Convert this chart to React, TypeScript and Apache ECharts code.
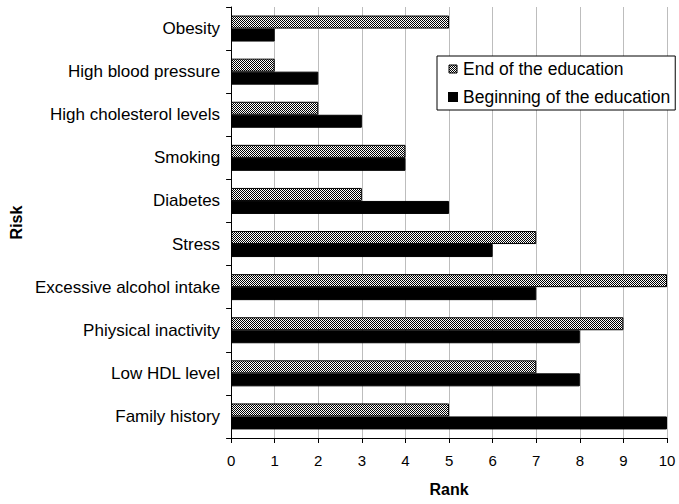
import React, { useEffect, useRef } from "react";
import * as echarts from "echarts";

const categories = [
  "Obesity",
  "High blood pressure",
  "High cholesterol levels",
  "Smoking",
  "Diabetes",
  "Stress",
  "Excessive alcohol intake",
  "Phiysical inactivity",
  "Low HDL level",
  "Family history",
];
const endOfEducation = [5, 1, 2, 4, 3, 7, 10, 9, 7, 5];
const beginningOfEducation = [1, 2, 3, 4, 5, 6, 7, 8, 8, 10];
const xTicks = [0, 1, 2, 3, 4, 5, 6, 7, 8, 9, 10];

function makePattern(): string {
  const c = document.createElement("canvas");
  c.width = 4;
  c.height = 4;
  const ctx = c.getContext("2d")!;
  ctx.fillStyle = "#ffffff";
  ctx.fillRect(0, 0, 4, 4);
  ctx.fillStyle = "#000000";
  for (let y = 0; y < 4; y++) {
    for (let x = 0; x < 4; x++) {
      if ((x + y) % 2 === 0) ctx.fillRect(x, y, 1, 1);
    }
  }
  return c.toDataURL();
}

export default function App() {
  const ref = useRef<HTMLDivElement>(null);
  useEffect(() => {
    document.body.style.margin = "0";
    const chart = echarts.init(ref.current!, null, { renderer: "svg" });
    const img = new Image();
    img.src = makePattern();
    const pattern: any = { image: img, repeat: "repeat" };
    const font = "Liberation Sans";
    chart.setOption({
      animation: false,
      backgroundColor: "#ffffff",
      textStyle: { fontFamily: font },
      grid: { left: 223, right: 12, top: 7, bottom: 66, containLabel: false },
      legend: {
        orient: "vertical",
        left: 437,
        top: 56,
        padding: [4, 5, 4, 11],
        itemWidth: 8,
        itemHeight: 8,
        itemGap: 10,
        borderColor: "#000",
        borderWidth: 1,
        backgroundColor: "#fff",
        textStyle: { fontSize: 17.5, color: "#000", fontFamily: font, padding: [0, 0, 0, 1] },
        data: [
          { name: "End of the education", icon: "rect", itemStyle: { color: pattern, borderColor: "#000", borderWidth: 1 } },
          { name: "Beginning of the education", icon: "rect" },
        ],
      },
      xAxis: {
        type: "value",
        min: 0,
        max: 10,
        interval: 1,
        name: "Rank",
        nameLocation: "middle",
        nameGap: 43,
        nameTextStyle: { fontSize: 16, fontWeight: "bold", color: "#000", fontFamily: font },
        axisLine: { show: true, lineStyle: { color: "#000", width: 1 } },
        axisTick: { show: true, length: 5, lineStyle: { color: "#000" } },
        axisLabel: {
          fontSize: 15,
          color: "#000",
          margin: 15,
          formatter: (v: number) => (xTicks.includes(v) ? String(v) : ""),
        },
        splitLine: { show: true, lineStyle: { color: "#bdbdbd", width: 1 } },
      },
      yAxis: {
        type: "category",
        data: categories,
        inverse: true,
        name: "Risk",
        nameLocation: "middle",
        nameGap: 203,
        nameTextStyle: { fontSize: 16, fontWeight: "bold", color: "#000", fontFamily: font },
        axisLine: { show: true, lineStyle: { color: "#000", width: 1 } },
        axisTick: { show: true, length: 5, alignWithLabel: false, lineStyle: { color: "#000" } },
        axisLabel: { fontSize: 17, color: "#000", margin: 11 },
        splitLine: { show: false },
      },
      series: [
        {
          name: "End of the education",
          type: "bar",
          data: endOfEducation,
          barWidth: 13,
          barGap: "0%",
          itemStyle: { color: pattern, borderColor: "#000", borderWidth: 1 },
        },
        {
          name: "Beginning of the education",
          type: "bar",
          data: beginningOfEducation,
          barWidth: 13,
          barGap: "0%",
          itemStyle: { color: "#000", borderColor: "#000", borderWidth: 1 },
        },
      ],
    });
    img.onload = () => chart.resize();
    return () => chart.dispose();
  }, []);
  return <div ref={ref} style={{ width: 679, height: 504 }} />;
}
